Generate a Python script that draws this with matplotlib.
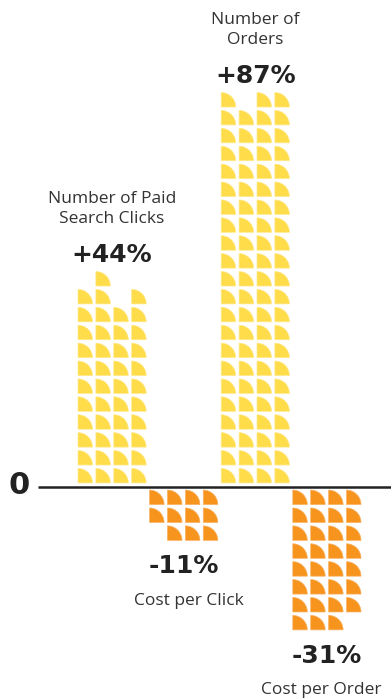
import matplotlib
matplotlib.use("Agg")
import matplotlib.pyplot as plt
from matplotlib.patches import Wedge

# --- data -------------------------------------------------------------
labels = ["Number of Paid\nSearch Clicks", "Cost per Click",
          "Number of\nOrders", "Cost per Order"]
values = [44, -11, 87, -31]
pct_text = ["+44%", "-11%", "+87%", "-31%"]
# which columns are filled in the last (partial) rows of each stack
partial_rows = [[[0, 1, 3], [1]], [[1, 2, 3]], [[0, 2, 3]], [[0, 1, 2]]]
label_dx = [0.0, 0.3, 0.0, -0.3]

YELLOW = "#FFDC4A"
ORANGE = "#F7941E"
PX = 17.9          # pixels per grid unit
W, H = 391, 699
BASE_PX = 486.5    # baseline, from top
LEFT_PX = 78       # left of first glyph column
GLYPH = 0.81
GAP = 0.2

fig = plt.figure(figsize=(W / 100, H / 100), dpi=100)
ax = fig.add_axes([0, 0, 1, 1])
ax.set_xlim(-LEFT_PX / PX, (W - LEFT_PX) / PX)
ax.set_ylim(-(H - BASE_PX) / PX, BASE_PX / PX)
ax.axis("off")


def glyph(x, y, color, edge):
    # quarter disc, flat on left and bottom, round at top-right
    ax.add_patch(Wedge((x, y), GLYPH, 0, 90, facecolor=color,
                       edgecolor=edge, linewidth=0.5))


for g, (v, parts) in enumerate(zip(values, partial_rows)):
    n_part = sum(len(p) for p in parts)
    full = (abs(v) - n_part) // 4
    rows = [[0, 1, 2, 3]] * full + parts
    pos = v > 0
    color = YELLOW if pos else ORANGE
    edge = "#FFE98A" if pos else "#F9B263"
    for r, cols in enumerate(rows):
        for c in cols:
            x = g * 4 + c
            y = GAP + r if pos else -GAP - r - GLYPH
            glyph(x, y, color, edge)

    cx = g * 4 + 1.9
    if pos:
        top = GAP + len(rows) - 1 + GLYPH
        ax.text(cx, top + 0.95, pct_text[g], ha="center", va="center",
                fontsize=18, fontweight="bold", color="#222222",
                family="DejaVu Sans")
        ax.text(cx + label_dx[g], top + 3.5, labels[g], ha="center",
                va="center", fontsize=12.5, color="#333333",
                family="Open Sans", linespacing=1.35)
    else:
        bot = -GAP - len(rows) + 1 - GLYPH
        ax.text(cx, bot - 1.45, pct_text[g], ha="center", va="center",
                fontsize=18, fontweight="bold", color="#222222",
                family="DejaVu Sans")
        ax.text(cx + label_dx[g], bot - 3.38, labels[g], ha="center",
                va="center", fontsize=12.5, color="#333333",
                family="Open Sans")

# zero line
ax.plot([(38 - LEFT_PX) / PX, (W - LEFT_PX) / PX], [0, 0],
        color="#222222", linewidth=1.8, solid_capstyle="butt")
ax.text((19 - LEFT_PX) / PX, 0.05, "0", ha="center", va="center",
        fontsize=22, fontweight="bold", color="#222222", family="DejaVu Sans")

fig.savefig("out.png", dpi=100)
